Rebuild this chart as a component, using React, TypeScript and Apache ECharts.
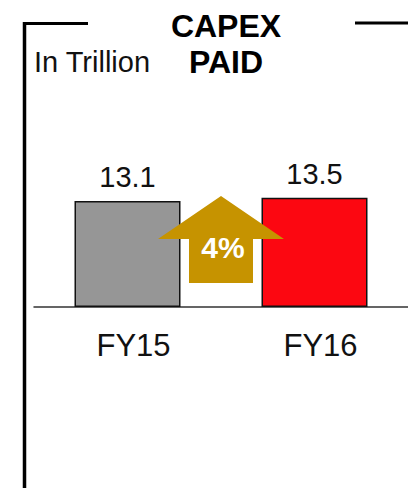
import React, { useEffect, useRef } from "react";
import * as echarts from "echarts";

const categories = ["FY15", "FY16"];
const values = [13.1, 13.5];
const barColors = ["#969696", "#FC0711"];
const changeLabel = "4%";
const titleLines = ["CAPEX", "PAID"];
const unitLabel = "In Trillion";

export default function App() {
  const ref = useRef<HTMLDivElement>(null);
  useEffect(() => {
    if (!ref.current) return;
    const chart = echarts.init(ref.current, null, { renderer: "svg" });
    const font = "Liberation Sans, Arial, sans-serif";
    chart.setOption({
      animation: false,
      grid: { left: 34, width: 376, top: 145, bottom: 181 },
      xAxis: {
        type: "category",
        data: categories,
        axisLine: { show: true, lineStyle: { color: "#333", width: 1.5 } },
        axisTick: { show: false },
        axisLabel: {
          color: "#111",
          fontSize: 31,
          fontFamily: font,
          margin: 23,
          padding: [0, 0, 0, 12],
        },
      },
      yAxis: {
        type: "value",
        min: 0,
        max: 20,
        show: false,
        splitLine: { show: false },
      },
      series: [
        {
          type: "bar",
          barWidth: 106,
          data: values.map((v, i) => ({
            value: v,
            itemStyle: { color: barColors[i], borderColor: "#111", borderWidth: 1.5 },
          })),
          label: {
            show: true,
            position: "top",
            distance: 9,
            color: "#111",
            fontSize: 29,
            fontFamily: font,
          },
        },
      ],
      graphic: [
        { type: "line", z: 100, shape: { x1: 24.5, y1: 22, x2: 24.5, y2: 488 }, style: { stroke: "#000", lineWidth: 3.5 } },
        { type: "line", z: 100, shape: { x1: 23, y1: 23.5, x2: 88, y2: 23.5 }, style: { stroke: "#000", lineWidth: 3 } },
        { type: "line", z: 100, shape: { x1: 355, y1: 23, x2: 408, y2: 23 }, style: { stroke: "#000", lineWidth: 3 } },
        {
          type: "text", z: 100, x: 226, y: 26,
          style: { text: titleLines[0], fill: "#000", font: `bold 32px ${font}`, align: "center", verticalAlign: "middle" },
        },
        {
          type: "text", z: 100, x: 226, y: 62,
          style: { text: titleLines[1], fill: "#000", font: `bold 32px ${font}`, align: "center", verticalAlign: "middle" },
        },
        {
          type: "text", z: 100, x: 34, y: 62,
          style: { text: unitLabel, fill: "#111", font: `29px ${font}`, align: "left", verticalAlign: "middle" },
        },
        {
          type: "polygon", z: 100,
          shape: { points: [[221, 196], [284, 239], [253, 239], [253, 283], [189, 283], [189, 239], [158, 239]] },
          style: { fill: "#C69300" },
        },
        {
          type: "text", z: 101, x: 223, y: 247,
          style: { text: changeLabel, fill: "#fff", font: `bold 30px ${font}`, align: "center", verticalAlign: "middle" },
        },
      ],
    });
    return () => chart.dispose();
  }, []);
  return (
    <div
      ref={ref}
      style={{ position: "fixed", left: 0, top: 0, width: 408, height: 488, background: "#fff" }}
    />
  );
}
